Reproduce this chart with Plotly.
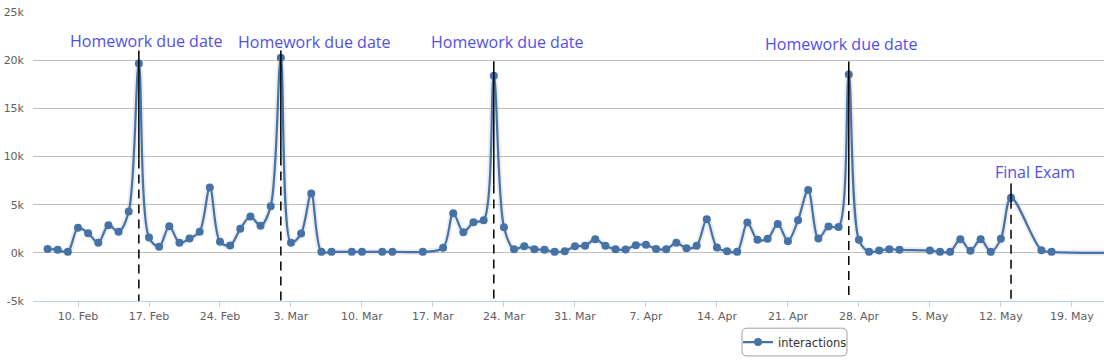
import plotly.graph_objects as go

# ---------------- data ----------------
dates = [
    "2014-02-07", "2014-02-08", "2014-02-09", "2014-02-10", "2014-02-11", "2014-02-12", "2014-02-13",
    "2014-02-14", "2014-02-15", "2014-02-16", "2014-02-17", "2014-02-18", "2014-02-19", "2014-02-20",
    "2014-02-21", "2014-02-22", "2014-02-23", "2014-02-24", "2014-02-25", "2014-02-26", "2014-02-27",
    "2014-02-28", "2014-03-01", "2014-03-02", "2014-03-03", "2014-03-04", "2014-03-05", "2014-03-06",
    "2014-03-07", "2014-03-09", "2014-03-10", "2014-03-12", "2014-03-13", "2014-03-16", "2014-03-18",
    "2014-03-19", "2014-03-20", "2014-03-21", "2014-03-22", "2014-03-23", "2014-03-24", "2014-03-25",
    "2014-03-26", "2014-03-27", "2014-03-28", "2014-03-29", "2014-03-30", "2014-03-31", "2014-04-01",
    "2014-04-02", "2014-04-03", "2014-04-04", "2014-04-05", "2014-04-06", "2014-04-07", "2014-04-08",
    "2014-04-09", "2014-04-10", "2014-04-11", "2014-04-12", "2014-04-13", "2014-04-14", "2014-04-15",
    "2014-04-16", "2014-04-17", "2014-04-18", "2014-04-19", "2014-04-20", "2014-04-21", "2014-04-22",
    "2014-04-23", "2014-04-24", "2014-04-25", "2014-04-26", "2014-04-27", "2014-04-28", "2014-04-29",
    "2014-04-30", "2014-05-01", "2014-05-02", "2014-05-05", "2014-05-06", "2014-05-07", "2014-05-08",
    "2014-05-09", "2014-05-10", "2014-05-11", "2014-05-12", "2014-05-13", "2014-05-16", "2014-05-17",
    "2014-05-25",
]
interactions = [
    410, 310, 100, 2600, 2040, 1040, 2870,
    2200, 4280, 19650, 1590, 620, 2760, 1040,
    1490, 2200, 6770, 1140, 760, 2490, 3770,
    2800, 4840, 20240, 1040, 2000, 6150, 100,
    100, 100, 100, 100, 100, 100, 520,
    4110, 2140, 3180, 3390, 18380, 2660, 380,
    690, 380, 310, 100, 170, 690, 730,
    1420, 730, 380, 350, 790, 830, 410,
    380, 1040, 480, 730, 3490, 550, 170,
    100, 3140, 1350, 1450, 3000, 1210, 3390,
    6530, 1490, 2730, 2690, 18510, 1350, 100,
    240, 380, 310, 240, 100, 100, 1420,
    210, 1420, 100, 1450, 5730, 280, 100,
    0,
]

event_dates = ["2014-02-16", "2014-03-02", "2014-03-23", "2014-04-27", "2014-05-13"]
event_labels = ["Homework due date", "Homework due date", "Homework due date",
                "Homework due date", "Final Exam"]

y_tickvals = [-5000, 0, 5000, 10000, 15000, 20000, 25000]
y_ticktext = ["-5k", "0k", "5k", "10k", "15k", "20k", "25k"]

# ---------------- layout helpers (styling / placement) ----------------
LINE_COLOR = "#4572A7"
LABEL_COLOR = "#5050E8"
# per event: (top of marker line, where dashes start, label y, label x shift px)
event_style = [
    (21000, 9700, 22000, 7),
    (21000, 10000, 21900, 33),
    (19900, 7100, 21900, 13),
    (19850, 5900, 21700, -8),
    (7200, 5500, 8420, 24),
]

fig = go.Figure()

# soft shadow under the line
fig.add_trace(go.Scatter(
    x=dates, y=interactions, mode="lines",
    line=dict(color="rgba(0,0,0,0.07)", width=6, shape="spline", smoothing=0.9),
    hoverinfo="skip", showlegend=False,
))
fig.add_trace(go.Scatter(
    x=dates, y=interactions, mode="lines+markers", name="interactions",
    line=dict(color=LINE_COLOR, width=2.2, shape="spline", smoothing=0.9),
    marker=dict(color=LINE_COLOR, size=8),
))

shapes = []
annotations = []
for d, lab, (top, mid, ly, xs) in zip(event_dates, event_labels, event_style):
    shapes.append(dict(type="line", xref="x", yref="y", x0=d, x1=d, y0=top, y1=mid,
                       line=dict(color="black", width=1.5)))
    shapes.append(dict(type="line", xref="x", yref="y", x0=d, x1=d, y0=mid, y1=-5000,
                       line=dict(color="black", width=1.5, dash="9px,6px")))
    annotations.append(dict(x=d, y=ly, xref="x", yref="y", text=lab, showarrow=False,
                            xanchor="center", yanchor="middle", xshift=xs,
                            font=dict(family="Open Sans", size=16, color=LABEL_COLOR)))

# rounded legend box
x0, x1, y0, y1 = 0.662, 0.760, -0.190, -0.094
rx, ry = 0.0047, 0.0173
path = (f"M {x0+rx},{y1} L {x1-rx},{y1} Q {x1},{y1} {x1},{y1-ry} "
        f"L {x1},{y0+ry} Q {x1},{y0} {x1-rx},{y0} L {x0+rx},{y0} "
        f"Q {x0},{y0} {x0},{y0+ry} L {x0},{y1-ry} Q {x0},{y1} {x0+rx},{y1} Z")
shapes.append(dict(type="path", xref="paper", yref="paper", path=path,
                   line=dict(color="#A0A0A0", width=1), fillcolor="rgba(0,0,0,0)"))

fig.update_layout(
    width=1104, height=361,
    margin=dict(l=33, r=0, t=12, b=60, autoexpand=False),
    paper_bgcolor="white", plot_bgcolor="white",
    font=dict(family="DejaVu Sans", size=11, color="#606060"),
    showlegend=True,
    legend=dict(x=0.7115, y=-0.142, xanchor="center", yanchor="middle",
                bgcolor="rgba(0,0,0,0)", borderwidth=0, itemwidth=30,
                font=dict(family="DejaVu Sans", size=11.5, color="#333333")),
    shapes=shapes,
    annotations=annotations,
    xaxis=dict(
        type="date", automargin=False,
        range=["2014-02-05 13:30", "2014-05-22 04:00"],
        tick0="2014-02-10", dtick=7 * 86400000, tickformat="%-d. %b",
        showgrid=False, showline=True, linecolor="#C0D0E0", linewidth=1,
        ticks="outside", ticklen=5, tickcolor="#C0D0E0",
        tickfont=dict(family="DejaVu Sans", size=11, color="#606060"),
        zeroline=False,
    ),
    yaxis=dict(
        range=[-5000, 25000], automargin=False,
        tickvals=y_tickvals, ticktext=y_ticktext,
        showgrid=True, gridcolor="#C0C0C0", gridwidth=1,
        zeroline=False, showline=False, ticks="",
        ticklabelstandoff=8,
        tickfont=dict(family="DejaVu Sans", size=11, color="#606060"),
    ),
)

fig.write_html("out.html", config={"displayModeBar": False},
               post_script="document.body.style.margin='0px';document.body.style.overflow='hidden';")
